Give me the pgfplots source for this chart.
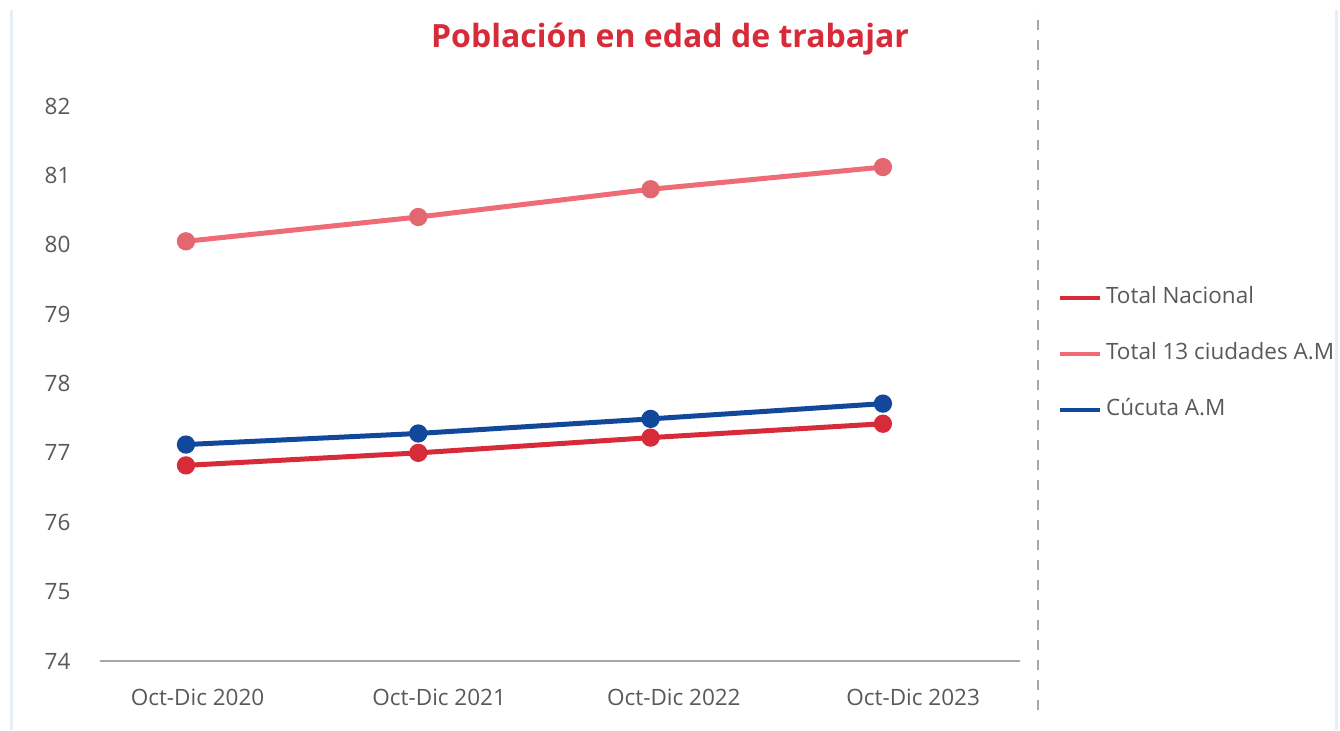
\documentclass[border=0pt]{standalone}
\usepackage{pgfplots}
\pgfplotsset{compat=1.18}
\usepackage{fontspec}
\setmainfont{Open Sans}
\definecolor{titlered}{RGB}{215,43,58}
\definecolor{nacional}{RGB}{215,43,58}
\definecolor{ciudades}{RGB}{239,108,119}
\definecolor{cucuta}{RGB}{18,72,156}
\definecolor{txtgray}{RGB}{89,89,89}
\definecolor{axgray}{RGB}{166,166,166}
\definecolor{framec}{RGB}{231,238,245}

\begin{document}
\begin{tikzpicture}
\useasboundingbox (0,0) rectangle (670pt,365pt);
\fill[white] (0,0) rectangle (670pt,365pt);
\draw[framec, line width=1.5pt] (5.5pt,0) -- (5.5pt,360pt);
\draw[framec, line width=1.5pt] (668pt,0) -- (668pt,360pt);
\draw[axgray, line width=0.8pt, dash pattern=on 5pt off 5pt] (519pt,10pt) -- (519pt,360pt);
\node[text=titlered, font=\fontsize{16}{19}\selectfont\bfseries] at (335pt,345.5pt) {Población en edad de trabajar};

\begin{axis}[
    at={(50pt,34.5pt)}, anchor=south west,
    scale only axis,
    width=460pt, height=277.5pt,
    xmin=-0.37, xmax=3.59,
    ymin=74, ymax=82,
    axis x line=bottom, axis y line=left,
    x axis line style={-, draw=axgray, line width=0.75pt},
    y axis line style={draw=none},
    tick style={draw=none},
    major tick length=0pt,
    ytick={74,75,...,82},
    xtick={0.05,1.09,2.1,3.13},
    xticklabels={Oct-Dic 2020, Oct-Dic 2021, Oct-Dic 2022, \raisebox{2pt}{Oct-Dic 2023}},
    ticklabel style={font=\fontsize{11.25}{13}\selectfont, text=txtgray},
    /pgf/number format/assume math mode=true,
    xticklabel style={yshift=-10.5pt},
    yticklabel style={xshift=-11.25pt},
    clip=false,
    legend style={at={(axis description cs:1.034,0.686)}, anchor=north west,
        draw=none, fill=none, font=\fontsize{11.25}{13}\selectfont, text=txtgray,
        row sep=14.5pt,
        nodes={text height=0.75em, text depth=0.2em}},
    legend cell align=left,
    legend image code/.code={\draw[#1, mark=none, line width=2.2pt] (0pt,0pt) -- (20pt,0pt);},
]
\addplot[nacional, line width=2.5pt, mark=*, mark size=3.3pt, mark options={solid, fill=nacional}]
coordinates {(0,76.82) (1,77.00) (2,77.22) (3,77.42)};
\addlegendentry{Total Nacional}
\addplot[ciudades, line width=2.5pt, mark=*, mark size=3.3pt, mark options={solid, fill=ciudades!95!black, draw=ciudades!95!black}]
coordinates {(0,80.05) (1,80.40) (2,80.80) (3,81.12)};
\addlegendentry{Total 13 ciudades A.M}
\addplot[cucuta, line width=2.5pt, mark=*, mark size=3.3pt, mark options={solid, fill=cucuta}]
coordinates {(0,77.12) (1,77.28) (2,77.49) (3,77.71)};
\addlegendentry{Cúcuta A.M}
\end{axis}
\end{tikzpicture}
\end{document}
